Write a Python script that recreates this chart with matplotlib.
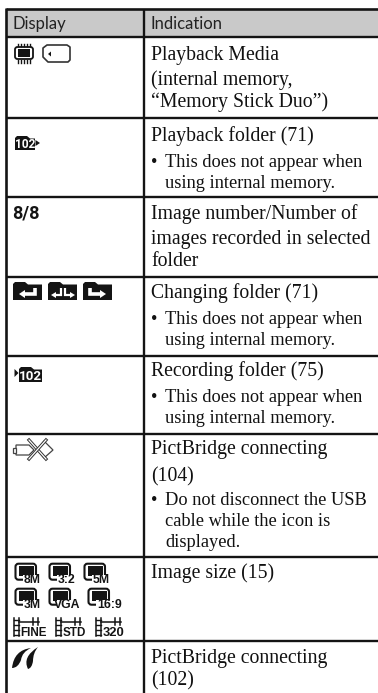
import matplotlib
matplotlib.use("Agg")
import matplotlib.pyplot as plt
from matplotlib.patches import Rectangle, FancyBboxPatch, Polygon, PathPatch
from matplotlib.path import Path

W, H = 378, 693
SERIF = ['Liberation Serif', 'DejaVu Serif']
HEAD = ['Lato', 'Roboto', 'DejaVu Sans']
NARROW = ['Roboto', 'DejaVu Sans']
ARIAL = ['Liberation Sans', 'DejaVu Sans']

headers = ["Display", "Indication"]
row_lines = [37, 117.5, 197, 277, 356, 433.5, 557, 641]
main_lines = [
    ("Playback Media", 60), ("(internal memory,", 85), ("\u201cMemory Stick Duo\u201d)", 107),
    ("Playback folder (71)", 141),
    ("Image number/Number of", 219), ("images recorded in selected", 244), ("folder", 266),
    ("Changing folder (71)", 298),
    ("Recording folder (75)", 376),
    ("PictBridge connecting", 454), ("(104)", 481),
    ("Image size (15)", 578),
    ("PictBridge connecting", 663), ("(102)", 685),
]
note_lines = [
    ("This does not appear when", 167, True), ("using internal memory.", 188, False),
    ("This does not appear when", 324, True), ("using internal memory.", 345, False),
    ("This does not appear when", 402, True), ("using internal memory.", 423, False),
    ("Do not disconnect the USB", 505, True), ("cable while the icon is", 526, False), ("displayed.", 547, False),
]
size_icons = [("8M", 15, 563), ("3:2", 49, 563), ("5M", 84, 563),
              ("3M", 15, 588), ("VGA", 49, 588), ("16:9", 88, 588)]
movie_icons = [("FINE", 13, 620), ("STD", 55, 620), ("320", 95, 620)]

fig = plt.figure(figsize=(W / 100, H / 100), dpi=100, facecolor='white')
ax = fig.add_axes([0, 0, 1, 1])
ax.set_xlim(0, W)
ax.set_ylim(H, 0)
ax.axis('off')
K = '#141414'

ax.add_patch(Rectangle((6, 9), W - 6, 28, fc='#c9c9c9', ec='none', zorder=0))
ax.plot([6, W], [9, 9], color=K, lw=1.9, solid_capstyle='butt')
for y in row_lines:
    ax.plot([6, W], [y, y], color=K, lw=1.7, solid_capstyle='butt')
ax.plot([6, 6], [8, H], color=K, lw=1.9, solid_capstyle='butt')
ax.plot([143.5, 143.5], [9, H], color=K, lw=1.7, solid_capstyle='butt')

ax.text(12, 29, headers[0], family=HEAD, fontsize=12, color='#222222', va='baseline')
ax.text(151, 29, headers[1], family=HEAD, fontsize=12, color='#222222', va='baseline')
for s, y in main_lines:
    ax.text(151, y, s, family=SERIF, fontsize=14.2, color='#111111', va='baseline')
for s, y, bullet in note_lines:
    ax.text(165, y, s, family=SERIF, fontsize=13.2, color='#111111', va='baseline')
    if bullet:
        ax.text(151, y, "\u2022", family=SERIF, fontsize=13.2, color='#111111', va='baseline')

ax.text(12, 218, "8/8", family=NARROW, fontsize=13, weight='bold', color=K, va='baseline')

# Memory icons
ax.add_patch(FancyBboxPatch((15, 47), 18, 12, boxstyle='round,pad=0,rounding_size=2.5', fc='white', ec=K, lw=1.3))
ax.add_patch(Rectangle((18, 49), 12, 7.5, fc=K, ec='none'))
for i in range(5):
    x = 17.5 + i * 3.2
    ax.plot([x, x], [43.5, 46], color=K, lw=1)
    ax.plot([x, x], [60, 62.5], color=K, lw=1)
ax.add_patch(Polygon([(47, 45), (67, 45), (70, 47), (70, 60), (68, 62), (48, 62), (43, 57), (43, 48)],
                     closed=True, fc='white', ec='#333333', lw=1.2, joinstyle='round'))
ax.add_patch(Polygon([(48, 54), (51, 51.5), (51, 56.5)], fc=K, ec='none'))

def folder(x, y, w, h):
    ax.add_patch(Polygon([(x, y + 2), (x + 2, y), (x + 12, y), (x + 15, y + 2.5), (x + w, y + 2.5), (x + w, y + h), (x, y + h)],
                         fc=K, ec='none'))

# Playback folder
folder(15, 136, 20, 14)
ax.text(25, 147.5, "102", family=NARROW, fontsize=8.6, weight='bold', color='white', ha='center', va='baseline')
ax.add_patch(Polygon([(35.5, 140), (40, 143), (35.5, 146)], fc=K, ec='none'))

# Changing folder icons
folder(13, 282, 29, 18)
folder(48, 282, 29, 18)
folder(83, 282, 29, 18)
def arrow(pts, head, w=2.6):
    ax.plot(*zip(*pts), color='white', lw=w, solid_joinstyle='miter', solid_capstyle='butt')
    ax.add_patch(Polygon(head, fc='white', ec='none'))
arrow([(35, 288), (35, 294), (24, 294)], [(19, 294), (25, 290), (25, 298)])
arrow([(61, 288), (61, 295), (56, 295)], [(51, 295), (56, 292), (56, 298)], 1.6)
arrow([(65, 288), (65, 295), (70, 295)], [(75, 295), (70, 292), (70, 298)], 1.6)
arrow([(90, 288), (90, 294), (100, 294)], [(106, 294), (100, 290), (100, 298)])

# Recording folder
ax.add_patch(Polygon([(14.5, 369), (18.5, 373), (14.5, 377)], fc=K, ec='none'))
folder(19, 367, 23, 15)
ax.text(30.5, 379.5, "102", family=NARROW, fontsize=9.6, weight='bold', color='white', ha='center', va='baseline')

# USB-off icon
ax.add_patch(Polygon([(16, 445), (29, 445), (34, 450), (29, 455), (16, 455)], fc='white', ec='#444444', lw=0.9))
ax.add_patch(Rectangle((12.5, 447.5), 3.5, 5, fc='white', ec='#444444', lw=0.9))
ax.add_patch(Polygon([(44, 441), (53, 450), (44, 458), (38, 450)], fc='white', ec='#444444', lw=0.9))
for a, b in (((29, 440), (46, 459)), ((46, 440), (29, 459))):
    ax.plot([a[0], b[0]], [a[1], b[1]], color='#333333', lw=2.3)
    ax.plot([a[0], b[0]], [a[1], b[1]], color='white', lw=0.9)

# Image size icons
for s, x, y in size_icons:
    ax.add_patch(FancyBboxPatch((x + 0.5, y + 0.7), 20.5, 16, boxstyle='round,pad=0,rounding_size=3', fc='white', ec=K, lw=1.5))
    ax.add_patch(Rectangle((x + 4, y + 3), 15, 10, fc=K, ec='none'))
    ax.add_patch(Rectangle((x + 8, y + 12), 18, 9, fc='white', ec='none'))
    ax.text(x + 9 if s != "VGA" else x + 4.5, y + 20, s, family=ARIAL, fontsize=8.8, weight='bold', color=K, va='baseline')

# Movie size icons
for s, x, y in movie_icons:
    ax.plot([x + 1, x + 1], [y - 2, y + 16], color=K, lw=1.1)
    ax.plot([x + 5.5, x + 5.5], [y - 2, y + 16], color=K, lw=1.1)
    for dy in (0, 5, 10, 15):
        ax.plot([x + 1, x + 5.5], [y + dy, y + dy], color=K, lw=1.0)
    ax.plot([x + 5.5, x + 26], [y + 1.5, y + 1.5], color=K, lw=1.1)
    ax.plot([x + 20, x + 20], [y - 2, y + 5], color=K, lw=1.1)
    ax.plot([x + 25, x + 25], [y - 2, y + 5], color=K, lw=1.1)
    ax.text(x + 7.5, y + 16, s, family=ARIAL, fontsize=8.4 if s != "320" else 9.4, weight='bold', color=K, va='baseline')

# PictBridge icon
C3 = Path.CURVE3
blade1 = Path([(12, 668), (14, 650), (31, 648), (22, 652), (21, 660), (18, 668), (12, 668), (12, 668)],
              [Path.MOVETO, C3, C3, C3, C3, C3, C3, Path.CLOSEPOLY])
blade2 = Path([(28, 669), (22, 657), (38, 647), (33, 653), (33, 661), (32, 668), (28, 669), (28, 669)],
              [Path.MOVETO, C3, C3, C3, C3, C3, C3, Path.CLOSEPOLY])
ax.add_patch(PathPatch(blade1, fc=K, ec='none'))
ax.add_patch(PathPatch(blade2, fc=K, ec='none'))

fig.savefig('out.png', dpi=100)
